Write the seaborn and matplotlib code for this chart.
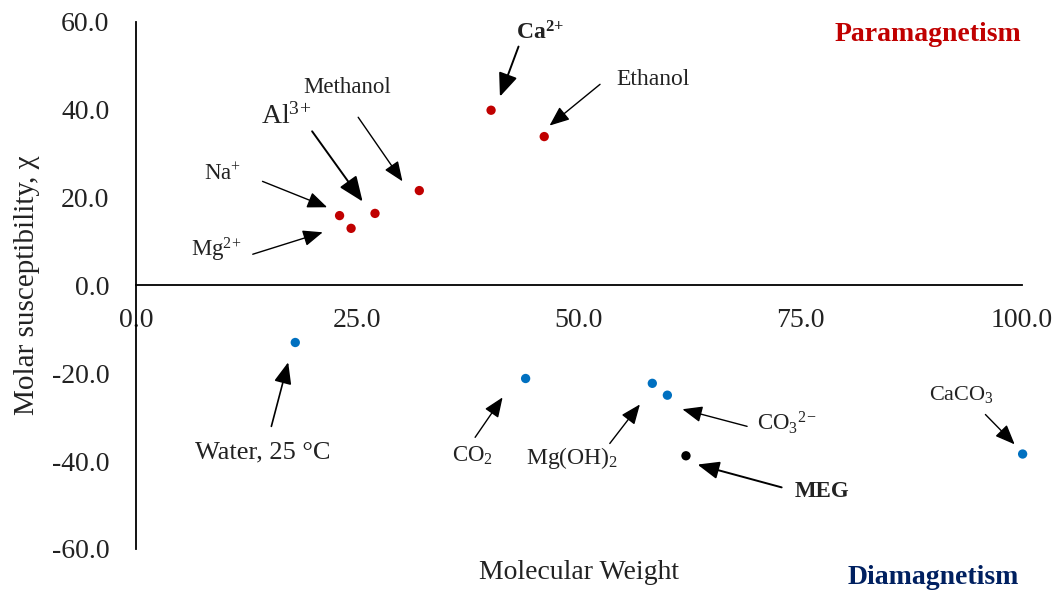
import matplotlib
matplotlib.use("Agg")
import matplotlib.pyplot as plt
import seaborn as sns
import pandas as pd
from matplotlib.ticker import FormatStrFormatter

# data
names = ["Na+", "Mg2+", "Al3+", "Methanol", "Ca2+", "Ethanol",
         "Water", "CO2", "Mg(OH)2", "CO3 2-", "MEG", "CaCO3"]
mol_weight = [23.0, 24.3, 27.0, 32.0, 40.1, 46.1,
              18.0, 44.0, 58.3, 60.0, 62.1, 100.1]
chi = [15.9, 13.0, 16.4, 21.6, 39.9, 33.9,
       -13.0, -21.2, -22.3, -25.0, -38.8, -38.4]
group = ["para"] * 6 + ["dia"] * 4 + ["meg"] + ["dia"]

labels = [r"Na$^{+}$", r"Mg$^{2\!+}$", r"Al$^{3\!+}$", "Methanol", r"$\mathbf{Ca^{2\!+}}$",
          "Ethanol", "Water, 25 °C", r"CO$_2$", r"Mg(OH)$_2$", r"CO$_3$$^{2\!-}$",
          "MEG", r"CaCO$_3$"]
# label text positions and arrow tails/tips (data units)
text_xy = [(9.8, 25.3), (9.1, 8.2), (17.0, 38.5), (23.9, 45.1), (45.6, 57.6), (58.4, 46.9),
           (14.3, -38.0), (38.0, -38.9), (49.2, -39.2), (73.5, -31.2), (77.5, -46.9), (93.2, -24.8)]
tail_xy = [(14.3, 23.7), (13.2, 7.1), (19.9, 35.1), (25.1, 38.3), (43.2, 54.4), (52.4, 45.8),
           (15.3, -32.1), (38.3, -34.6), (53.5, -36.0), (69.0, -32.1), (72.9, -46.0), (95.9, -29.4)]
tip_xy = [(21.6, 17.8), (21.1, 12.1), (25.6, 19.1), (30.1, 23.7), (41.1, 43.0), (46.7, 36.4),
          (17.2, -17.5), (41.4, -25.5), (56.9, -27.1), (61.7, -28.2), (63.4, -40.8), (99.2, -36.2)]
label_size = [16.5, 16.5, 20, 16.5, 17, 17, 19, 16.5, 17, 16.5, 16.5, 16]
bold = [False, False, False, False, False, False, False, False, False, False, True, False]
arrow_width = [1.0, 1.0, 1.4, 1.0, 1.4, 1.0, 1.2, 1.0, 1.0, 1.0, 1.4, 1.0]
head_scale = [11, 11, 14, 11, 13, 11, 12, 11, 11, 11, 12, 11]

df = pd.DataFrame({"mw": mol_weight, "chi": chi, "group": group})
palette = {"para": "#C00000", "dia": "#0070C0", "meg": "#000000"}

sns.set_style("white")
plt.rcParams["font.family"] = ["Liberation Serif", "DejaVu Serif"]
plt.rcParams["mathtext.fontset"] = "custom"
plt.rcParams["mathtext.rm"] = "Liberation Serif"
plt.rcParams["mathtext.it"] = "Liberation Serif:italic"
plt.rcParams["mathtext.bf"] = "Liberation Serif:bold"

fig = plt.figure(figsize=(10.61, 5.94), dpi=100)
ax = fig.add_axes([0.128, 0.076, 0.835, 0.887])

sns.scatterplot(data=df, x="mw", y="chi", hue="group", palette=palette,
                s=45, edgecolor="none", legend=False, ax=ax, clip_on=False)

ax.set_xlim(0, 100)
ax.set_ylim(-60, 60)
ax.set_xticks([0, 25, 50, 75, 100])
ax.set_yticks([-60, -40, -20, 0, 20, 40, 60])
ax.xaxis.set_major_formatter(FormatStrFormatter("%.1f"))
ax.yaxis.set_major_formatter(FormatStrFormatter("%.1f"))

for side in ["top", "right"]:
    ax.spines[side].set_visible(False)
ax.spines["bottom"].set_position(("data", 0))
ax.spines["left"].set_position(("data", 0))
for side in ["bottom", "left"]:
    ax.spines[side].set_linewidth(1.3)
    ax.spines[side].set_color("black")

ax.tick_params(axis="y", direction="in", length=6, width=1.3, labelsize=20, pad=19,
               colors="black", labelcolor="#222222")
ax.tick_params(axis="x", direction="in", length=4, width=1.3, labelsize=20, pad=16,
               colors="black", labelcolor="#222222")

ax.set_xlabel("Molecular Weight", fontsize=20, color="#222222")
ax.xaxis.set_label_coords(0.5, -0.021)
ax.set_ylabel("Molar susceptibility, χ", fontsize=21, color="#222222")
ax.yaxis.set_label_coords(-0.108, 0.5)

for i in range(len(names)):
    ax.annotate("", xy=tip_xy[i], xytext=tail_xy[i],
                arrowprops=dict(arrowstyle="-|>,head_length=1.1,head_width=0.45",
                                mutation_scale=head_scale[i],
                                color="black", lw=arrow_width[i], shrinkA=0, shrinkB=0))
    ax.text(text_xy[i][0], text_xy[i][1], labels[i], fontsize=label_size[i],
            fontweight="bold" if bold[i] else "normal",
            ha="center", va="center", color="#222222")

ax.text(89.4, 57.2, "Paramagnetism", fontsize=20, fontweight="bold",
        color="#C00000", ha="center", va="center")
ax.text(90.0, -66.5, "Diamagnetism", fontsize=20, fontweight="bold",
        color="#002060", ha="center", va="center", clip_on=False)

fig.savefig("out.png", dpi=100)
